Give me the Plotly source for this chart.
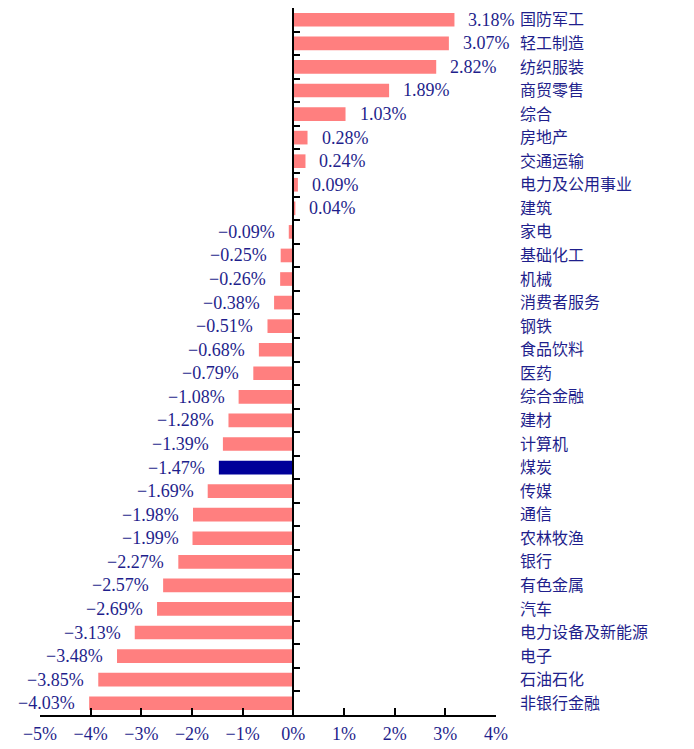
import plotly.graph_objects as go

# Industry weekly change (%), top to bottom
industries = [
    "国防军工", "轻工制造", "纺织服装", "商贸零售", "综合", "房地产", "交通运输",
    "电力及公用事业", "建筑", "家电", "基础化工", "机械", "消费者服务", "钢铁",
    "食品饮料", "医药", "综合金融", "建材", "计算机", "煤炭", "传媒", "通信",
    "农林牧渔", "银行", "有色金属", "汽车", "电力设备及新能源", "电子", "石油石化",
    "非银行金融",
]
changes = [
    3.18, 3.07, 2.82, 1.89, 1.03, 0.28, 0.24, 0.09, 0.04, -0.09, -0.25, -0.26,
    -0.38, -0.51, -0.68, -0.79, -1.08, -1.28, -1.39, -1.47, -1.69, -1.98, -1.99,
    -2.27, -2.57, -2.69, -3.13, -3.48, -3.85, -4.03,
]
x_ticks = [-5, -4, -3, -2, -1, 0, 1, 2, 3, 4]
x_tick_labels = ["−5%", "−4%", "−3%", "−2%", "−1%", "0%", "1%", "2%", "3%", "4%"]
highlight = "煤炭"

BAR = "#FF7F7F"
BAR_HI = "#000099"
TXT = "#1F1F8C"
NUM_FONT = "Liberation Serif"
CJK_FONT = "Noto Sans CJK SC"

colors = [BAR_HI if name == highlight else BAR for name in industries]
n = len(industries)
cat_range = [n - 0.5, -0.5]

fig = go.Figure()
fig.add_trace(go.Bar(
    x=changes, y=industries, orientation="h",
    marker=dict(color=colors, line=dict(width=0)),
    hoverinfo="x+y",
))
# invisible carrier so the right-hand axis shows the industry names
fig.add_trace(go.Scatter(
    x=[0] * n, y=industries, yaxis="y2", mode="markers",
    marker=dict(opacity=0), hoverinfo="skip", showlegend=False,
))

for name, v in zip(industries, changes):
    label = f"{v:.2f}%".replace("-", "−")
    fig.add_annotation(
        x=v, y=name, text=label, showarrow=False,
        xanchor="left" if v >= 0 else "right",
        xshift=12 if v >= 0 else -12,
        font=dict(family=NUM_FONT, size=18, color=TXT),
    )

x_lo, x_hi = x_ticks[0], x_ticks[-1]
fig.update_layout(
    width=694, height=749,
    margin=dict(l=40, r=198, t=8, b=34),
    paper_bgcolor="white", plot_bgcolor="white",
    showlegend=False, bargap=0.42,
    xaxis=dict(
        range=[x_lo, x_hi], domain=[0, 1], automargin=False,
        tickmode="array", tickvals=x_ticks, ticktext=x_tick_labels,
        showgrid=False, zeroline=False,
        showline=True, linecolor="black", linewidth=2,
        ticks="inside", ticklen=7, tickwidth=2, tickcolor="black",
        tickfont=dict(family=NUM_FONT, size=18, color=TXT),
        ticklabelstandoff=1,
    ),
    yaxis=dict(
        type="category", categoryorder="array", categoryarray=industries,
        range=cat_range, dtick=1, automargin=False,
        anchor="free", position=(0 - x_lo) / (x_hi - x_lo),
        showline=True, linecolor="black", linewidth=2,
        ticks="inside", ticklen=6, tickwidth=2, tickcolor="black",
        tickson="boundaries", showticklabels=False,
        showgrid=False, zeroline=False,
    ),
    yaxis2=dict(
        type="category", categoryorder="array", categoryarray=industries,
        range=cat_range, overlaying="y", side="right", dtick=1,
        anchor="free", position=1, automargin=False,
        showline=False, ticks="", showgrid=False, zeroline=False,
        ticklabelstandoff=23,
        tickfont=dict(family=CJK_FONT, size=16, color=TXT),
    ),
)

fig.write_html("out.html")
